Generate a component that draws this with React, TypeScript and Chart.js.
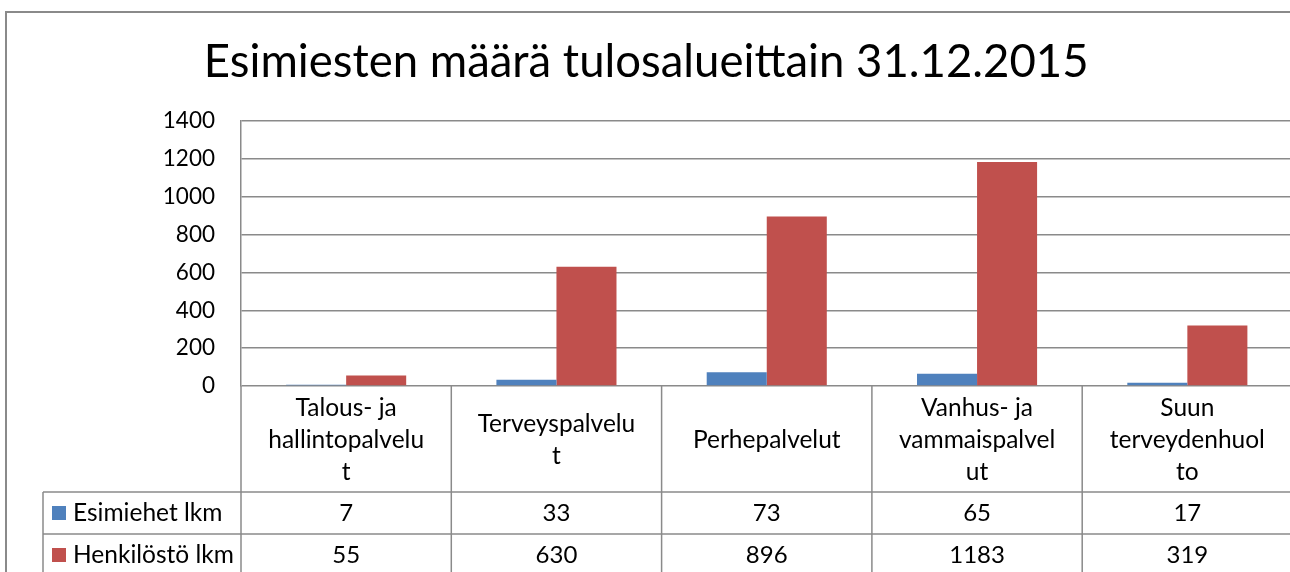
import React, { useEffect, useRef } from "react";
import { Chart, registerables } from "chart.js";

Chart.register(...registerables);

const TITLE = "Esimiesten määrä tulosalueittain 31.12.2015";
const categories: string[][] = [
  ["Talous- ja", "hallintopalvelu", "t"],
  ["Terveyspalvelu", "t"],
  ["Perhepalvelut"],
  ["Vanhus- ja", "vammaispalvel", "ut"],
  ["Suun", "terveydenhuol", "to"],
];
const seriesNames = ["Esimiehet lkm", "Henkilöstö lkm"];
const esimiehet = [7, 33, 73, 65, 17];
const henkilosto = [55, 630, 896, 1183, 319];
const seriesColors = ["#4F81BD", "#C0504D"];
const yMin = 0;
const yMax = 1400;
const yStep = 200;

const FONT = "Lato";
const LINE = "#8a8a8a";

const tablePlugin = {
  id: "dataTable",
  afterDraw(chart: any) {
    const { ctx, chartArea, scales } = chart;
    const x = scales.x;
    const n = categories.length;
    const bounds: number[] = [chartArea.left];
    for (let i = 1; i < n; i++) {
      bounds.push((x.getPixelForValue(i - 1) + x.getPixelForValue(i)) / 2);
    }

    const top = chartArea.bottom;
    const r1 = top + 106;
    const r2 = r1 + 42;
    const r3 = r2 + 42;
    const legendLeft = 43;
    const W = chart.width;
    const H = chart.height;

    ctx.save();
    ctx.strokeStyle = LINE;
    ctx.lineWidth = 2;
    ctx.beginPath();
    ctx.moveTo(6, H);
    ctx.lineTo(6, 12);
    ctx.lineTo(W, 12);
    ctx.stroke();

    ctx.lineWidth = 1.5;
    ctx.beginPath();
    ctx.moveTo(legendLeft, r1);
    ctx.lineTo(W, r1);
    ctx.moveTo(legendLeft, r2);
    ctx.lineTo(W, r2);
    ctx.moveTo(legendLeft, r3);
    ctx.lineTo(W, r3);
    for (const b of bounds) {
      ctx.moveTo(b, top);
      ctx.lineTo(b, H);
    }
    ctx.moveTo(legendLeft, r1);
    ctx.lineTo(legendLeft, H);
    ctx.stroke();

    ctx.fillStyle = "#000";
    ctx.textBaseline = "middle";
    ctx.textAlign = "center";
    ctx.font = `24.5px ${FONT}`;
    const lh = 32;
    const cy = (top + r1) / 2 + 1;
    categories.forEach((lines, i) => {
      const cx = x.getPixelForValue(i);
      lines.forEach((ln, j) => {
        ctx.fillText(ln, cx, cy + (j - (lines.length - 1) / 2) * lh);
      });
    });
    const rows = [esimiehet, henkilosto];
    const rowTops = [r1, r2];
    rows.forEach((vals, ri) => {
      const ry = rowTops[ri] + 21;
      ctx.font = `24px ${FONT}`;
      vals.forEach((v, i) => {
        ctx.fillText(String(v), x.getPixelForValue(i), ry);
      });
      ctx.fillStyle = seriesColors[ri];
      ctx.fillRect(52, ry - 7, 14, 14);
      ctx.fillStyle = "#000";
      ctx.textAlign = "left";
      ctx.font = `24.5px ${FONT}`;
      ctx.fillText(seriesNames[ri], 73, ry);
      ctx.textAlign = "center";
    });
    ctx.restore();
  },
};

export default function App() {
  const ref = useRef<HTMLCanvasElement>(null);
  useEffect(() => {
    if (!ref.current) return;
    const chart = new Chart(ref.current, {
      type: "bar",
      data: {
        labels: categories,
        datasets: [
          {
            label: seriesNames[0],
            data: esimiehet,
            backgroundColor: seriesColors[0],
            categoryPercentage: 0.571,
            barPercentage: 1,
          },
          {
            label: seriesNames[1],
            data: henkilosto,
            backgroundColor: seriesColors[1],
            categoryPercentage: 0.571,
            barPercentage: 1,
          },
        ],
      },
      options: {
        responsive: false,
        animation: false,
        devicePixelRatio: 1,
        layout: { padding: { left: 0, right: 7.5, top: 0, bottom: 214 } },
        plugins: {
          legend: { display: false },
          tooltip: { enabled: false },
          title: {
            display: true,
            text: TITLE,
            color: "#000",
            font: { family: FONT, size: 45.5, weight: "normal", lineHeight: 1.2 },
            padding: { top: 35, bottom: 31.4 },
          },
        },
        scales: {
          x: { display: false },
          y: {
            min: yMin,
            max: yMax,
            ticks: {
              stepSize: yStep,
              color: "#000",
              padding: 26,
              font: { family: FONT, size: 22.5 },
              callback: (v: any) => String(v),
            },
            grid: { color: LINE, lineWidth: 1.5, drawTicks: false },
            border: { display: true, color: LINE, width: 1.5 },
            afterFit: (s: any) => {
              s.width = 241;
            },
          },
        },
      },
      plugins: [tablePlugin],
    });
    return () => chart.destroy();
  }, []);
  return (
    <div
      style={{
        position: "absolute",
        left: 0,
        top: 0,
        width: 1290,
        height: 572,
        overflow: "hidden",
        background: "#fff",
      }}
    >
      <canvas ref={ref} width={1300} height={600} style={{ display: "block" }} />
    </div>
  );
}
